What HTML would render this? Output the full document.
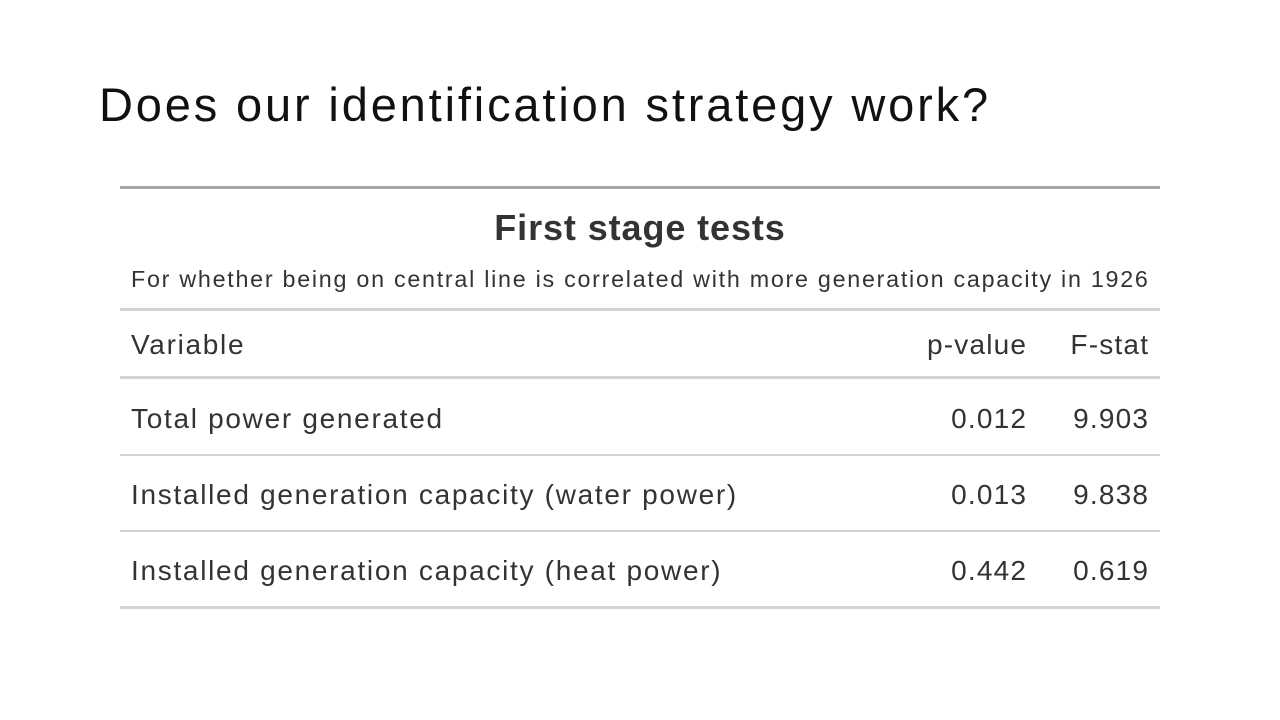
<!DOCTYPE html>
<html><head><meta charset="utf-8"><style>
body{margin:0;width:1280px;height:720px;background:#fff;position:relative;overflow:hidden;font-family:"Liberation Sans",sans-serif;color:#333}
.a{position:absolute;white-space:nowrap}
.ln{position:absolute;left:120px;width:1040px}
.r{text-align:right}
.t{font-size:28px;letter-spacing:1.7px}
.r.t{letter-spacing:1.2px;margin-right:-0.2px}
</style></head><body>
<div class="a" style="left:99px;top:77px;font-size:47px;color:#111;letter-spacing:2.85px">Does our identification strategy work?</div>
<div class="ln" style="top:186px;height:3px;background:#a8a8a8"></div>
<div class="a" style="left:120px;width:1040px;text-align:center;top:207px;font-size:36px;font-weight:bold;letter-spacing:0.9px">First stage tests</div>
<div class="a" style="left:131px;top:266px;font-size:23.3px;letter-spacing:1.73px">For whether being on central line is correlated with more generation capacity in 1926</div>
<div class="ln" style="top:308px;height:3px;background:#d3d3d3"></div>
<div class="a t" style="left:131px;top:329px">Variable</div>
<div class="a r t" style="right:253px;top:329px">p-value</div>
<div class="a r t" style="right:131px;top:329px">F-stat</div>
<div class="ln" style="top:376px;height:3px;background:#d3d3d3"></div>

<div class="a t" style="left:131px;top:403px">Total power generated</div>
<div class="a r t" style="right:253px;top:403px">0.012</div>
<div class="a r t" style="right:131px;top:403px">9.903</div>
<div class="ln" style="top:454px;height:2px;background:#d3d3d3"></div>

<div class="a t" style="left:131px;top:479px">Installed generation capacity (water power)</div>
<div class="a r t" style="right:253px;top:479px">0.013</div>
<div class="a r t" style="right:131px;top:479px">9.838</div>
<div class="ln" style="top:530px;height:2px;background:#d3d3d3"></div>

<div class="a t" style="left:131px;top:555px">Installed generation capacity (heat power)</div>
<div class="a r t" style="right:253px;top:555px">0.442</div>
<div class="a r t" style="right:131px;top:555px">0.619</div>
<div class="ln" style="top:606px;height:3px;background:#d3d3d3"></div>
</body></html>
